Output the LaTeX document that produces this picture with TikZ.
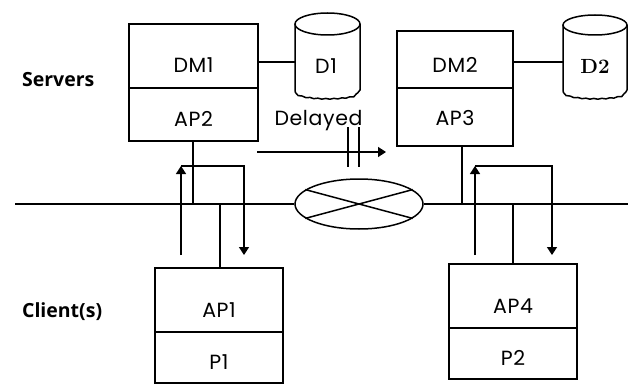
\documentclass[tikz,border=0pt]{standalone}
\usepackage{fontspec}
\setmainfont{Poppins}[LetterSpace=3]
\newfontfamily\labfont{Open Sans}
\newfontfamily\lmfont{Latin Modern Roman}
\usetikzlibrary{arrows.meta,shapes.geometric,decorations.pathmorphing}
\begin{document}
\begin{tikzpicture}[x=1pt,y=-1pt,line width=1.5pt,
  cell/.style n args={3}{draw, inner sep=0pt, minimum width=#1, text height=#2, text depth=#3, font=\fontsize{20.5}{24}\selectfont},
  lbl/.style={anchor=base, font=\fontsize{20.5}{24}\selectfont},
  side/.style={anchor=base west, font=\labfont\bfseries\fontsize{19.5}{22}\selectfont},
  tri/.style={-{Triangle[width=10pt,length=8pt]}},
  wavy/.style={decoration={snake,amplitude=0.4pt,segment length=8pt}}]
\useasboundingbox (0,0) rectangle (631,385);
% side labels
\node[side] (srv) at (18,87) {Servers};
\node[side] (cli) at (18,317) {Client(s)};
% server boxes
\node[cell={129pt}{49pt}{15pt}] (dm1) at (193.5,56) {DM1};
\node[cell={129pt}{38pt}{15pt}] (ap2) at (193.5,114.5) {AP2};
\node[cell={116pt}{42pt}{15pt}] (dm2) at (455,59.5) {DM2};
\node[cell={116pt}{37pt}{21pt}] (ap3) at (455,117) {AP3};
% client boxes
\node[cell={128pt}{49pt}{15pt}] (ap1) at (219,300) {AP1};
\node[cell={128pt}{37pt}{14pt}] (p1) at (219,357.5) {P1};
\node[cell={128pt}{49pt}{15pt}] (ap4) at (513,296) {AP4};
\node[cell={128pt}{37pt}{14pt}] (p2) at (513,353.5) {P2};
% databases
\draw (327.5,24) ellipse [x radius=32.5pt, y radius=11pt];
\draw (295,24) -- (295,90) decorate[wavy]{.. controls (295,99) and (360,99) .. (360,90)} -- (360,24);
\node[lbl] (d1) at (326,74) {D1};
\draw (595,25) ellipse [x radius=32pt, y radius=10pt];
\draw (563,25) -- (563,90) decorate[wavy]{.. controls (563,99) and (627,99) .. (627,90)} -- (627,25);
\node[anchor=base, font=\lmfont\bfseries\fontsize{20.5}{22}\selectfont] (d2) at (595,74) {D2};
\coordinate (c1) at (295,62);
\coordinate (c2) at (563,62);
\draw (c1 -| dm1.east) -- (c1);
\draw (c2 -| dm2.east) -- (c2);
% network
\node[draw, ellipse, inner sep=0pt, minimum width=128pt, minimum height=50pt] (net) at (359,204) {};
\coordinate (nl) at (15,204);
\coordinate (nr) at (628,204);
\draw (nl) -- (net.west);
\draw (net.east) -- (nr);
\draw (net.165) -- (net.-15);
\draw (net.195) -- (net.15);
% taps
\draw ([xshift=-0.5pt]ap2.south) -- ([xshift=-0.5pt]ap2.south |- nl);
\draw ([xshift=7pt]ap3.south) -- ([xshift=7pt]ap3.south |- nl);
\draw ([xshift=1pt]ap1.north) -- ([xshift=1pt]ap1.north |- nl);
\draw (ap4.north) -- (ap4.north |- nl);
% request/response arrows
\coordinate (a1) at (181,255); \coordinate (a2) at (181,166);
\coordinate (a3) at (244,166); \coordinate (a4) at (244,255);
\draw[tri] (a1) -- (a2);
\draw[tri] (a2) -- (a3) -- (a4);
\coordinate (b1) at (475,255); \coordinate (b2) at (475,166);
\coordinate (b3) at (552,166); \coordinate (b4) at (552,255);
\draw[tri] (b1) -- (b2);
\draw[tri] (b2) -- (b3) -- (b4);
% delayed
\node[lbl] (dl) at (318.5,125) {Delayed};
\coordinate (e1) at (257,152); \coordinate (e2) at (386,152);
\draw[tri] (e1) -- (e2);
\coordinate (h1) at (348,127); \coordinate (h2) at (348,167);
\coordinate (h3) at (359,127); \coordinate (h4) at (359,167);
\draw (h1) -- (h2);
\draw (h3) -- (h4);
\end{tikzpicture}
\end{document}
